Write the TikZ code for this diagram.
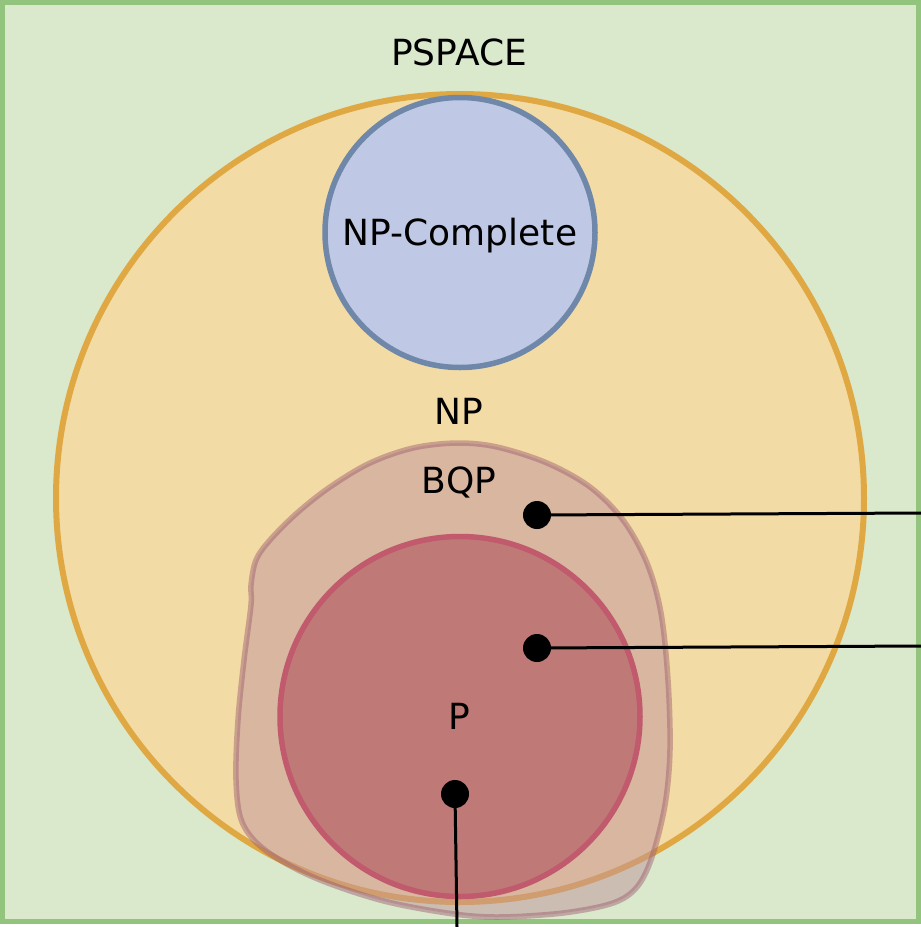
\documentclass[tikz,border=0pt]{standalone}
\usepackage{fontspec}
\setmainfont{DejaVu Sans}
\definecolor{psfill}{HTML}{DAE8CC}
\definecolor{psline}{HTML}{93C47D}
\definecolor{npfill}{HTML}{F3DBA6}
\definecolor{npline}{HTML}{E0A843}
\definecolor{ncfill}{HTML}{BFC9E5}
\definecolor{ncline}{HTML}{6F87A8}
\definecolor{bqfill}{HTML}{BF939C}
\definecolor{bqline}{HTML}{9A5A6C}
\definecolor{pfill}{HTML}{BF7A77}
\definecolor{pline}{HTML}{C05A6C}
\tikzset{
  lbl/.style={font=\fontsize{36}{42}\selectfont, anchor=base, inner sep=0pt},
  dotnode/.style={circle, fill=black, minimum size=28pt, inner sep=0pt},
  wire/.style={line width=3pt, black}
}
\begin{document}
\begin{tikzpicture}[x=1pt,y=-1pt]
\useasboundingbox (0,0) rectangle (921,927);
% PSPACE box
\draw[fill=psfill, draw=psline, line width=5pt] (2.5,2.5) rectangle (918.5,921);
% NP circle
\draw[fill=npfill, draw=npline, line width=6pt] (460,498) circle (404);
% NP-Complete circle
\draw[fill=ncfill, draw=ncline, line width=5.5pt] (460,232.5) circle (135);
% BQP blob
\draw[fill=bqfill, fill opacity=0.5, draw=bqline, draw opacity=0.45, line width=5.5pt]
  plot[smooth cycle, tension=0.55] coordinates {
   (457,443) (497,447) (547,463) (590,487) (623,520) (647,563) (661,613)
   (668,680) (670,750) (665,805) (652,857) (637,887) (613,903)
   (563,913) (497,917) (447,913) (380,900) (313,877) (265,850) (242,822)
   (236,780) (238,720) (244,660) (251,605) (251,585) (256,560) (270,540)
   (297,513) (330,487) (370,463) (413,448)};
% P circle
\draw[fill=pfill, draw=pline, line width=5.5pt] (460,716.5) circle (180);
% labels
\node[lbl] (ps) at (459,65) {PSPACE};
\node[lbl] (nc) at (460,245) {NP-Complete};
\node[lbl] (np) at (459,424) {NP};
\node[lbl] (bq) at (459,493) {BQP};
\node[lbl] (pp) at (459,729) {P};
% dots and wires
\node[dotnode] (d1) at (537,515) {};
\node[dotnode] (d2) at (537,648) {};
\node[dotnode] (d3) at (455,794) {};
\coordinate (e1) at (921,513);
\coordinate (e2) at (921,646);
\coordinate (e3) at (457,927);
\draw[wire] (d1.center) -- (e1);
\draw[wire] (d2.center) -- (e2);
\draw[wire] (d3.center) -- (e3);
\end{tikzpicture}
\end{document}
